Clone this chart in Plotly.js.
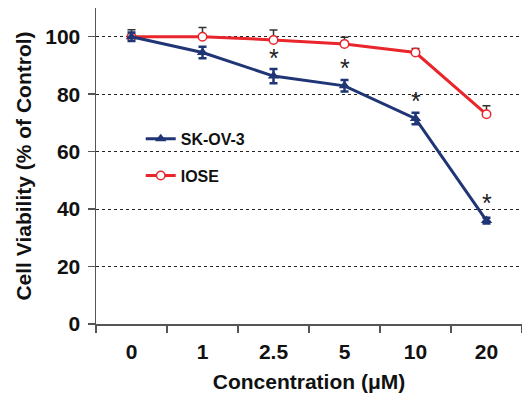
<!DOCTYPE html>
<html>
<head>
<meta charset="utf-8">
<script src="https://cdn.plot.ly/plotly-3.0.1.min.js"></script>
<style>html,body{margin:0;padding:0;background:#fff;}#chart{width:522px;height:400px;}</style>
</head>
<body>
<div id="chart"></div>
<script>
const categories = ['0', '1', '2.5', '5', '10', '20'];
const skov3Values = [100, 94.5, 86.3, 82.9, 71.5, 36];
const skov3Errors = [1.5, 2, 2.5, 2, 2, 1];
const ioseValues = [100, 100, 98.9, 97.5, 94.5, 73];
const ioseErrorsUp = [2.4, 3.2, 3.4, 2.3, 1.4, 3];
const ioseErrorsDown = [0, 0, 0, 0, 0, 0];
const sigCategories = ['2.5', '5', '10', '20'];

const NAVY = '#1F3576';
const RED = '#E8262B';
const FONT = 'Arial, "Liberation Sans", sans-serif';

const traces = [
  {
    x: categories, y: ioseValues, name: 'IOSE', type: 'scatter', mode: 'lines+markers',
    legendgroup: 'b', legendrank: 2,
    line: {color: RED, width: 3},
    marker: {symbol: 'circle', size: 8.5, color: '#fff', line: {color: RED, width: 1.5}},
    error_y: {type: 'data', symmetric: false, array: ioseErrorsUp, arrayminus: ioseErrorsDown,
              color: '#333', thickness: 1.5, width: 4}
  },
  {
    x: categories, y: skov3Values, name: 'SK-OV-3', type: 'scatter', mode: 'lines+markers',
    legendgroup: 'a', legendrank: 1,
    line: {color: NAVY, width: 3},
    marker: {symbol: 'triangle-up', size: 10, color: NAVY},
    error_y: {type: 'data', array: skov3Errors, color: NAVY, thickness: 2.5, width: 4}
  }
];

const annotations = sigCategories.map(c => {
  const i = categories.indexOf(c);
  return {
    x: i, y: skov3Values[i], xref: 'x', yref: 'y',
    text: '*', showarrow: false, yshift: 18,
    font: {family: FONT, size: 25, color: '#222'}
  };
});

const layout = {
  width: 522, height: 400,
  margin: {l: 96, r: 0, t: 8, b: 76},
  paper_bgcolor: '#fff', plot_bgcolor: '#fff',
  font: {family: FONT, color: '#111'},
  showlegend: true,
  legend: {
    x: 0.105, y: 0.64, xanchor: 'left', yanchor: 'top',
    bgcolor: 'rgba(0,0,0,0)', borderwidth: 0,
    traceorder: 'grouped', tracegroupgap: 13,
    font: {family: FONT, size: 16, weight: 'bold', color: '#111'}
  },
  xaxis: {
    type: 'category', range: [-0.5, 5.5],
    showline: true, linecolor: '#555', linewidth: 1.5,
    ticks: 'outside', ticklen: 7, tickcolor: '#555', tickwidth: 1.5,
    tickson: 'boundaries', showgrid: false, zeroline: false,
    ticklabelstandoff: 8,
    tickfont: {family: FONT, size: 21, weight: 'bold', color: '#111'},
    title: {text: 'Concentration (μM)', standoff: 12,
            font: {family: FONT, size: 21, weight: 'bold', color: '#111'}}
  },
  yaxis: {
    range: [0, 110], tickvals: [0, 20, 40, 60, 80, 100],
    showline: true, linecolor: '#555', linewidth: 1.5,
    ticks: 'outside', ticklen: 7, tickcolor: '#555', tickwidth: 1.5,
    showgrid: true, gridcolor: '#222', griddash: 'dot', gridwidth: 1,
    zeroline: false, ticklabelstandoff: 3,
    tickfont: {family: FONT, size: 21, weight: 'bold', color: '#111'},
    title: {text: 'Cell Viability (% of Control)', standoff: 8,
            font: {family: FONT, size: 21, weight: 'bold', color: '#111'}}
  },
  shapes: [{
    type: 'rect', xref: 'paper', yref: 'paper', layer: 'between',
    x0: 0.033, x1: 0.446, y0: 0.41, y1: 0.63,
    fillcolor: '#fff', line: {width: 0}
  }],
  annotations: annotations
};

Plotly.newPlot('chart', traces, layout, {displayModeBar: false, staticPlot: true});
</script>
</body>
</html>
